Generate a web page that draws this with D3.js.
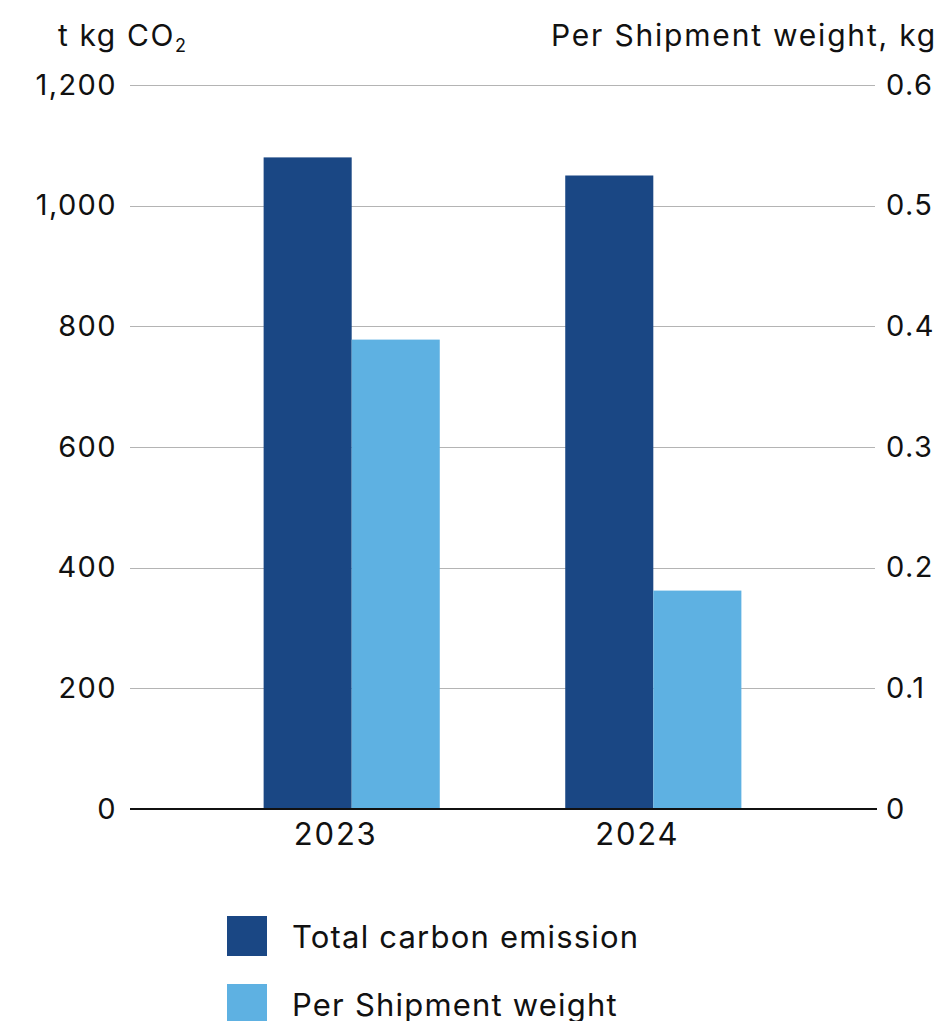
<!DOCTYPE html>
<html>
<head>
<meta charset="utf-8">
<script src="https://cdn.jsdelivr.net/npm/d3@7"></script>
<style>
  body { margin: 0; background: #fff; }
  svg text { font-family: Inter, "Noto Sans", sans-serif; fill: #111; }
</style>
</head>
<body>
<div id="chart"></div>
<script>
// chart data
var years = ["2023", "2024"];
var totalEmission = [1080, 1050];      // t kg CO2 (left axis)
var perShipment = [0.389, 0.181];      // kg (right axis)
var leftTicks = [0, 200, 400, 600, 800, 1000, 1200];
var rightTicks = [0, 0.1, 0.2, 0.3, 0.4, 0.5, 0.6];
var seriesNames = ["Total carbon emission", "Per Shipment weight"];

var DARK = "#1a4784", LIGHT = "#5eb1e2";

var margin = {top: 85, left: 130, right: 74, bottom: 212},
	W = 949, H = 1021,
	width = W - margin.left - margin.right,
	height = H - margin.top - margin.bottom;

var svg = d3.select("#chart")
	.append("svg")
	.attr("width", W)
	.attr("height", H);

var g = svg.append("g")
	.attr("transform", "translate(" + margin.left + "," + margin.top + ")");

var yL = d3.scaleLinear().domain([0, 1200]).range([height, 0]);
var yR = d3.scaleLinear().domain([0, 0.6]).range([height, 0]);

var x0 = d3.scaleBand()
	.domain(years)
	.range([0, width])
	.paddingInner(0.416)
	.paddingOuter(0.443);

var x1 = d3.scaleBand()
	.domain([0, 1])
	.range([0, x0.bandwidth()]);

// grid lines
g.append("g")
	.selectAll("line")
	.data(leftTicks.slice(1))
	.enter()
	.append("line")
	.attr("x1", 0)
	.attr("x2", width)
	.attr("y1", d => Math.round(yL(d)) + 0.5)
	.attr("y2", d => Math.round(yL(d)) + 0.5)
	.attr("stroke", "#b4b4b4")
	.attr("stroke-width", 1);

// left axis labels
g.append("g")
	.call(d3.axisLeft(yL)
		.tickValues(leftTicks)
		.tickSize(0)
		.tickPadding(13)
		.tickFormat(d3.format(",")))
	.call(a => a.select(".domain").remove())
	.selectAll("text")
	.style("font-size", "29px")
	.style("letter-spacing", "1.4px")
	.attr("font-family", null);

// right axis labels
g.append("g")
	.attr("transform", "translate(" + width + ",0)")
	.call(d3.axisRight(yR)
		.tickValues(rightTicks)
		.tickSize(0)
		.tickPadding(11)
		.tickFormat(d => d === 0 ? "0" : d3.format(".1f")(d)))
	.call(a => a.select(".domain").remove())
	.selectAll("text")
	.style("font-size", "29px")
	.style("letter-spacing", "1.4px")
	.attr("font-family", null);

// bars
var groups = g.append("g")
	.selectAll("g")
	.data(years)
	.enter()
	.append("g")
	.attr("transform", d => "translate(" + x0(d) + ",0)");

groups.append("rect")
	.attr("x", x1(0))
	.attr("width", x1.bandwidth())
	.attr("y", (d, i) => yL(totalEmission[i]))
	.attr("height", (d, i) => height - yL(totalEmission[i]))
	.attr("fill", DARK);

groups.append("rect")
	.attr("x", x1(1))
	.attr("width", x1.bandwidth())
	.attr("y", (d, i) => yR(perShipment[i]))
	.attr("height", (d, i) => height - yR(perShipment[i]))
	.attr("fill", LIGHT);

// baseline
g.append("line")
	.attr("x1", 0)
	.attr("x2", width + 2)
	.attr("y1", height)
	.attr("y2", height)
	.attr("stroke", "#111")
	.attr("stroke-width", 2);

// x axis labels
g.append("g")
	.attr("transform", "translate(0," + height + ")")
	.call(d3.axisBottom(x0).tickSize(0).tickPadding(14))
	.call(a => a.select(".domain").remove())
	.selectAll("text")
	.attr("dx", -16)
	.style("font-size", "31px")
	.style("letter-spacing", "1.8px")
	.attr("font-family", null);

// axis titles
var lt = svg.append("text")
	.attr("x", 58)
	.attr("y", 46)
	.style("font-size", "30px")
	.style("letter-spacing", "1.6px");
lt.append("tspan").text("t kg CO");
lt.append("tspan").attr("dy", 6).style("font-size", "18px").text("2");

svg.append("text")
	.attr("x", 937)
	.attr("y", 46)
	.attr("text-anchor", "end")
	.style("font-size", "30px")
	.style("letter-spacing", "1.8px")
	.text("Per Shipment weight, kg");

// legend
var legend = svg.append("g")
	.attr("transform", "translate(227,916)")
	.selectAll("g")
	.data(seriesNames)
	.enter()
	.append("g")
	.attr("transform", (d, i) => "translate(0," + i * 68 + ")");

legend.append("rect")
	.attr("width", 40)
	.attr("height", 40)
	.attr("fill", (d, i) => i === 0 ? DARK : LIGHT);

legend.append("text")
	.attr("x", 65)
	.attr("y", 32)
	.style("font-size", "31px")
	.style("letter-spacing", "1.2px")
	.text(d => d);
</script>
</body>
</html>
